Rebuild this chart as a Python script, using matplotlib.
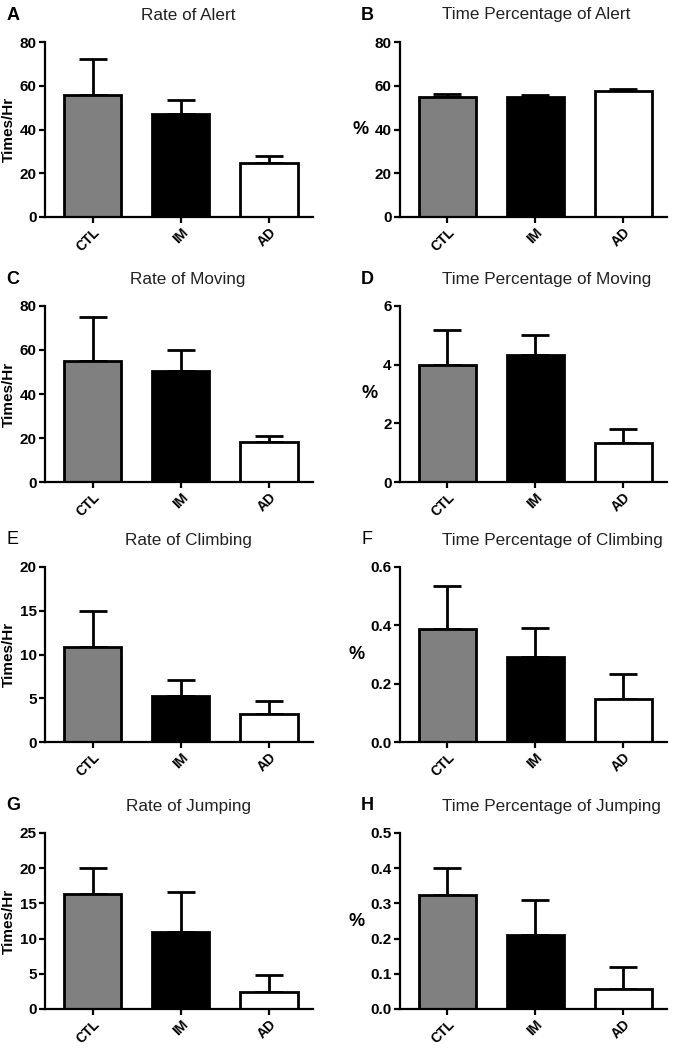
import numpy as np
import matplotlib
matplotlib.use("Agg")
import matplotlib.pyplot as plt

plt.rcParams['font.family'] = ['Liberation Sans', 'DejaVu Sans']

groups = ['CTL', 'IM', 'AD']
bar_colors = ['#808080', '#000000', '#ffffff']

letters = ['A', 'B', 'C', 'D', 'E', 'F', 'G', 'H']
titles = ['Rate of Alert', 'Time Percentage of Alert',
          'Rate of Moving', 'Time Percentage of Moving',
          'Rate of Climbing', 'Time Percentage of Climbing',
          'Rate of Jumping', 'Time Percentage of Jumping']
ylabels = ['Times/Hr', '%', 'Times/Hr', '%', 'Times/Hr', '%', 'Times/Hr', '%']

# means and upper error (SEM) for CTL, IM, AD
means = [
    [56.0, 47.3, 24.6],
    [54.7, 54.7, 57.7],
    [55.0, 50.3, 18.2],
    [4.0, 4.34, 1.34],
    [10.9, 5.24, 3.23],
    [0.387, 0.291, 0.146],
    [16.3, 10.9, 2.46],
    [0.323, 0.211, 0.058],
]
errs = [
    [16.1, 6.4, 3.5],
    [1.7, 1.1, 0.9],
    [20.0, 9.9, 2.9],
    [1.18, 0.67, 0.48],
    [4.1, 1.86, 1.44],
    [0.147, 0.099, 0.088],
    [3.7, 5.7, 2.32],
    [0.077, 0.098, 0.060],
]
ymax = [80, 80, 80, 6, 20, 0.6, 25, 0.5]
ystep = [20, 20, 20, 2, 5, 0.2, 5, 0.1]
yfmt = ['%d', '%d', '%d', '%d', '%d', '%.1f', '%d', '%.1f']

W, H = 674, 1050
fig = plt.figure(figsize=(W / 100, H / 100), dpi=100)

col_x = [45, 400]
col_w = [268, 267]
row_tb = [(42, 217), (306, 482), (567, 742), (833, 1009)]
letter_x = [13, 367]

for i in range(8):
    r, c = divmod(i, 2)
    top, bot = row_tb[r]
    ax = fig.add_axes([col_x[c] / W, 1 - bot / H, col_w[c] / W, (bot - top) / H])
    x = np.arange(len(groups))
    lower = np.zeros(len(groups))
    ax.bar(x, means[i], width=0.65, color=bar_colors, edgecolor='black',
           linewidth=2, zorder=2)
    ax.errorbar(x, means[i], yerr=[lower, errs[i]], fmt='none', ecolor='black',
                elinewidth=2, capsize=10, capthick=2, zorder=1)
    ax.set_xlim(-0.54, 2.5)
    ax.set_ylim(0, ymax[i])
    ax.set_yticks(np.arange(0, ymax[i] + ystep[i] / 2, ystep[i]))
    ax.yaxis.set_major_formatter(matplotlib.ticker.FormatStrFormatter(yfmt[i]))
    ax.set_xticks(x)
    ax.set_xticklabels(groups, rotation=45, ha='right', va='top',
                       rotation_mode='anchor', fontweight='bold', fontsize=10)
    for lab in ax.get_yticklabels():
        lab.set_fontweight('bold')
        lab.set_fontsize(11)
    for s in ['top', 'right']:
        ax.spines[s].set_visible(False)
    for s in ['left', 'bottom']:
        ax.spines[s].set_linewidth(1.6)
    ax.tick_params(width=1.6, length=4, pad=2)
    if c == 0:
        ax.set_ylabel(ylabels[i], fontweight='bold', fontsize=11, labelpad=3)
    else:
        ax.set_ylabel(ylabels[i], fontweight='bold', fontsize=13, rotation=0,
                      ha='right', va='center', labelpad=4)

    ty = 1 - (top - 27) / H
    if c == 0:
        fig.text(188 / W, ty, titles[i], ha='center', va='center', fontsize=12.3,
                 color='#222222')
    else:
        fig.text(442 / W, ty, titles[i], ha='left', va='center', fontsize=12.3,
                 color='#222222')
    weight = 'normal' if letters[i] in ('E', 'F') else 'bold'
    fig.text(letter_x[c] / W, ty, letters[i], ha='center', va='center',
             fontsize=13, fontweight=weight)

fig.savefig('out.png', dpi=100)
